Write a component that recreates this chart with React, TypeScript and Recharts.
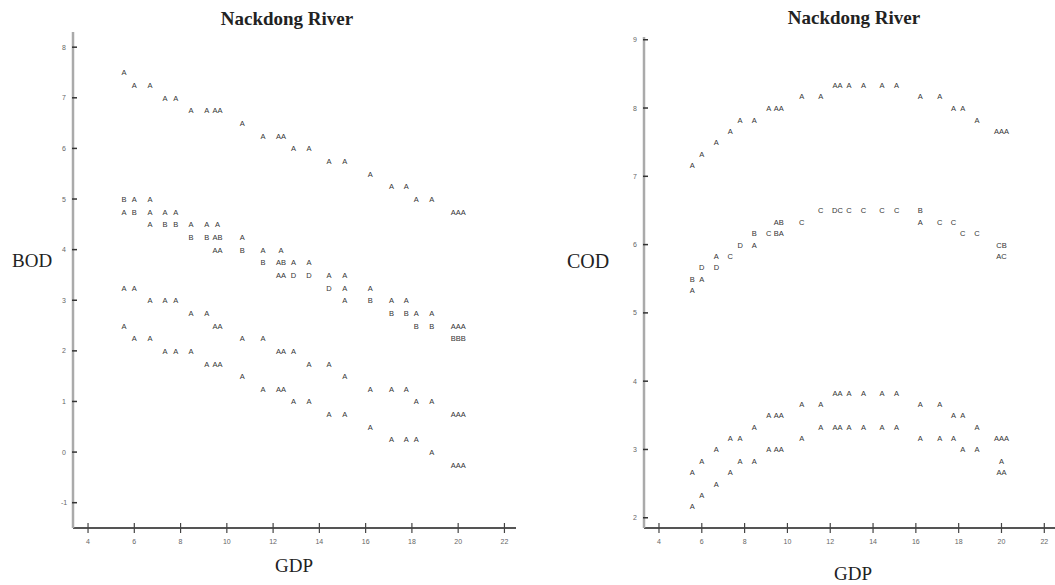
import { ScatterChart, Scatter, XAxis, YAxis } from "recharts";

// GDP positions shared by both panels
const gdp = [5.56, 6.0, 6.68, 7.33, 7.79, 8.45, 9.13, 9.6, 10.67, 11.56, 12.34, 12.88, 13.55, 14.42, 15.1, 16.2, 17.12, 17.76, 18.19, 18.86, 20.0];

// BOD panel
const bodTop = [7.5, 7.25, 7.25, 7.0, 7.0, 6.75, 6.75, 6.75, 6.5, 6.25, 6.25, 6.0, 6.0, 5.75, 5.75, 5.5, 5.25, 5.25, 5.0, 5.0, 4.75];
const bodTopMarks = ["A", "A", "A", "A", "A", "A", "A", "AA", "A", "A", "AA", "A", "A", "A", "A", "A", "A", "A", "A", "A", "AAA"];
const bodMidA = [5.0, 5.0, 5.0, 4.75, 4.75, 4.5, 4.5, 4.5, 4.25, 4.0, 4.0, 3.75, 3.75, 3.5, 3.5, 3.25, 3.0, 3.0, 2.75, 2.75, 2.5];
const bodMidAMarks = ["B", "A", "A", "A", "A", "A", "A", "A", "A", "A", "A", "A", "A", "A", "A", "A", "A", "A", "A", "A", "AAA"];
const bodMidB = [4.75, 4.75, 4.75, 4.5, 4.5, 4.25, 4.25, 4.25, 4.0, 3.75, 3.75, 3.5, 3.5, 3.25, 3.25, 3.0, 2.75, 2.75, 2.5, 2.5, 2.25];
const bodMidBMarks = ["A", "B", "A", "B", "B", "B", "B", "AB", "B", "B", "AB", "D", "D", "D", "A", "B", "B", "B", "B", "B", "BBB"];
const bodMidC = [null, null, 4.5, null, null, null, null, 4.0, null, null, 3.5, null, null, null, 3.0, null, null, null, null, null, null];
const bodMidCMarks = ["", "", "A", "", "", "", "", "AA", "", "", "AA", "", "", "", "A", "", "", "", "", "", ""];
const bodLowA = [3.25, 3.25, 3.0, 3.0, 3.0, 2.75, 2.75, 2.5, 2.25, 2.25, 2.0, 2.0, 1.75, 1.75, 1.5, 1.25, 1.25, 1.25, 1.0, 1.0, 0.75];
const bodLowAMarks = ["A", "A", "A", "A", "A", "A", "A", "AA", "A", "A", "AA", "A", "A", "A", "A", "A", "A", "A", "A", "A", "AAA"];
const bodLowB = [2.5, 2.25, 2.25, 2.0, 2.0, 2.0, 1.75, 1.75, 1.5, 1.25, 1.25, 1.0, 1.0, 0.75, 0.75, 0.5, 0.25, 0.25, 0.25, 0.0, -0.25];
const bodLowBMarks = ["A", "A", "A", "A", "A", "A", "A", "AA", "A", "A", "AA", "A", "A", "A", "A", "A", "A", "A", "A", "A", "AAA"];

// COD panel
const codTop = [7.17, 7.33, 7.5, 7.67, 7.83, 7.83, 8.0, 8.0, 8.17, 8.17, 8.33, 8.33, 8.33, 8.33, 8.33, 8.17, 8.17, 8.0, 8.0, 7.83, 7.67];
const codTopMarks = ["A", "A", "A", "A", "A", "A", "A", "AA", "A", "A", "AA", "A", "A", "A", "A", "A", "A", "A", "A", "A", "AAA"];
const codMidA = [5.5, 5.67, 5.83, 5.83, 6.0, 6.17, 6.17, 6.33, 6.33, 6.5, 6.5, 6.5, 6.5, 6.5, 6.5, 6.5, 6.33, 6.33, 6.17, 6.17, 6.0];
const codMidAMarks = ["B", "D", "A", "C", "D", "B", "C", "AB", "C", "C", "DC", "C", "C", "C", "C", "B", "C", "C", "C", "C", "CB"];
const codMidB = [5.33, 5.5, 5.67, null, null, 6.0, null, 6.17, null, null, null, null, null, null, null, 6.33, null, null, null, null, 5.83];
const codMidBMarks = ["A", "A", "D", "", "", "A", "", "BA", "", "", "", "", "", "", "", "A", "", "", "", "", "AC"];
const codLowA = [2.67, 2.83, 3.0, 3.17, 3.17, 3.33, 3.5, 3.5, 3.67, 3.67, 3.83, 3.83, 3.83, 3.83, 3.83, 3.67, 3.67, 3.5, 3.5, 3.33, 3.17];
const codLowAMarks = ["A", "A", "A", "A", "A", "A", "A", "AA", "A", "A", "AA", "A", "A", "A", "A", "A", "A", "A", "A", "A", "AAA"];
const codLowB = [2.17, 2.33, 2.5, 2.67, 2.83, 2.83, 3.0, 3.0, 3.17, 3.33, 3.33, 3.33, 3.33, 3.33, 3.33, 3.17, 3.17, 3.17, 3.0, 3.0, 2.83];
const codLowBMarks = ["A", "A", "A", "A", "A", "A", "A", "AA", "A", "A", "AA", "A", "A", "A", "A", "A", "A", "A", "A", "A", "A"];
const codLowC = [null, null, null, null, null, null, null, null, null, null, null, null, null, null, null, null, null, null, null, null, 2.67];
const codLowCMarks = ["", "", "", "", "", "", "", "", "", "", "", "", "", "", "", "", "", "", "", "", "AA"];

const xTicks = [4, 6, 8, 10, 12, 14, 16, 18, 20, 22];
const bodTicks = [-1, 0, 1, 2, 3, 4, 5, 6, 7, 8];
const codTicks = [2, 3, 4, 5, 6, 7, 8, 9];

function toPoints(values: (number | null)[], marks: string[]) {
  const pts: { gdp: number; value: number; mark: string }[] = [];
  values.forEach((v, i) => {
    if (v === null) return;
    pts.push({ gdp: gdp[i], value: v, mark: marks[i] });
  });
  return pts;
}

const bodSeries = [
  toPoints(bodTop, bodTopMarks),
  toPoints(bodMidA, bodMidAMarks),
  toPoints(bodMidB, bodMidBMarks),
  toPoints(bodMidC, bodMidCMarks),
  toPoints(bodLowA, bodLowAMarks),
  toPoints(bodLowB, bodLowBMarks),
];
const codSeries = [
  toPoints(codTop, codTopMarks),
  toPoints(codMidA, codMidAMarks),
  toPoints(codMidB, codMidBMarks),
  toPoints(codLowA, codLowAMarks),
  toPoints(codLowB, codLowBMarks),
  toPoints(codLowC, codLowCMarks),
];

const LetterMark = (props: any) => {
  const { cx, cy, payload } = props;
  if (cx == null || cy == null) return <g />;
  return (
    <text x={cx} y={cy} dy={3} textAnchor="middle" fontSize={7.5} fontFamily="Arial, sans-serif" fill="#333">
      {payload.mark}
    </text>
  );
};

const XTick = (props: any) => {
  const { x, y, payload } = props;
  return (
    <g>
      <line x1={x} x2={x} y1={y - 5} y2={y + 5} stroke="#444" strokeWidth={1.2} />
      <text x={x} y={y + 16} textAnchor="middle" fontSize={7} fill="#666" fontFamily="Arial, sans-serif">
        {payload.value}
      </text>
    </g>
  );
};

const YTick = (props: any) => {
  const { x, y, payload } = props;
  return (
    <g>
      <line x1={x - 1} x2={x + 4} y1={y} y2={y} stroke="#333" strokeWidth={1.5} />
      <text x={x - 9} y={y + 2.5} textAnchor="middle" fontSize={7} fill="#666" fontFamily="Arial, sans-serif">
        {payload.value}
      </text>
    </g>
  );
};

const serif = "'Liberation Serif', 'Times New Roman', serif";

export default function App() {
  return (
    <div style={{ position: "absolute", left: 0, top: 0, width: 1055, height: 585, background: "#fff" }}>
      <div style={{ position: "absolute", left: 0, top: 0 }}>
        <ScatterChart width={530} height={585} margin={{ top: 32, right: 14, bottom: 27, left: 0 }}>
          <XAxis
            type="number"
            dataKey="gdp"
            domain={[3.35, 22.5]}
            ticks={xTicks}
            allowDataOverflow
            height={30}
            tickSize={0}
            tickMargin={0}
            tickLine={false}
            tick={<XTick />}
            axisLine={{ stroke: "#555", strokeWidth: 2 }}
          />
          <YAxis
            type="number"
            dataKey="value"
            domain={[-1.5, 8.3]}
            ticks={bodTicks}
            allowDataOverflow
            width={73}
            tickSize={0}
            tickMargin={0}
            tickLine={false}
            tick={<YTick />}
            axisLine={{ stroke: "#aaa", strokeWidth: 2.5 }}
          />
          {bodSeries.map((d, i) => (
            <Scatter key={i} data={d} shape={LetterMark} isAnimationActive={false} />
          ))}
          <text x={287} y={25} textAnchor="middle" fontFamily={serif} fontWeight="bold" fontSize={19} fill="#222">
            Nackdong River
          </text>
          <text x={12} y={267} fontFamily={serif} fontSize={19} fill="#222">
            BOD
          </text>
          <text x={294} y={572} textAnchor="middle" fontFamily={serif} fontSize={19} fill="#222">
            GDP
          </text>
        </ScatterChart>
      </div>
      <div style={{ position: "absolute", left: 540, top: 0 }}>
        <ScatterChart width={515} height={585} margin={{ top: 37, right: 0, bottom: 27, left: 0 }}>
          <XAxis
            type="number"
            dataKey="gdp"
            domain={[3.3, 22.5]}
            ticks={xTicks}
            allowDataOverflow
            height={30}
            tickSize={0}
            tickMargin={0}
            tickLine={false}
            tick={<XTick />}
            axisLine={{ stroke: "#555", strokeWidth: 2 }}
          />
          <YAxis
            type="number"
            dataKey="value"
            domain={[1.85, 9.04]}
            ticks={codTicks}
            allowDataOverflow
            width={104}
            tickSize={0}
            tickMargin={0}
            tickLine={false}
            tick={<YTick />}
            axisLine={{ stroke: "#aaa", strokeWidth: 2.5 }}
          />
          {codSeries.map((d, i) => (
            <Scatter key={i} data={d} shape={LetterMark} isAnimationActive={false} />
          ))}
          <text x={314} y={24} textAnchor="middle" fontFamily={serif} fontWeight="bold" fontSize={19} fill="#222">
            Nackdong River
          </text>
          <text x={27} y={268} fontFamily={serif} fontSize={20} fill="#222">
            COD
          </text>
          <text x={313} y={580} textAnchor="middle" fontFamily={serif} fontSize={19} fill="#222">
            GDP
          </text>
        </ScatterChart>
      </div>
    </div>
  );
}
